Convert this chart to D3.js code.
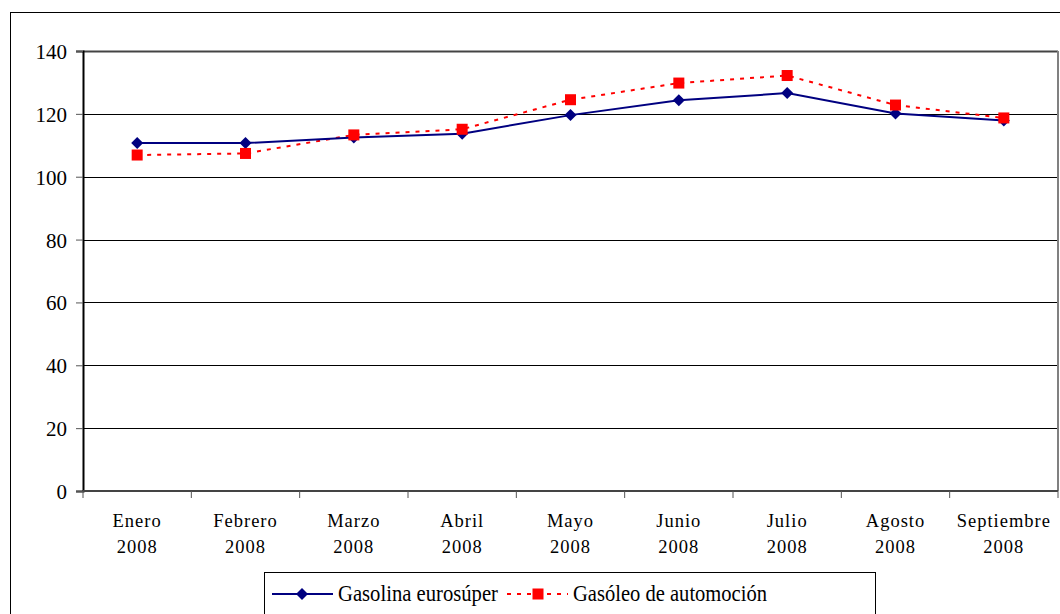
<!DOCTYPE html>
<html>
<head>
<meta charset="utf-8">
<script src="https://cdn.jsdelivr.net/npm/d3@7"></script>
<style>
  body { margin: 0; background: #fff; }
  svg text { font-family: "Liberation Serif", "Times New Roman", serif; }
</style>
</head>
<body>
<div id="chart"></div>
<script>
let months = ["Enero", "Febrero", "Marzo", "Abril", "Mayo", "Junio", "Julio", "Agosto", "Septiembre"];
let years = ["2008", "2008", "2008", "2008", "2008", "2008", "2008", "2008", "2008"];
let gasolina = [110.7, 110.7, 112.5, 113.7, 119.6, 124.3, 126.6, 120.1, 117.9];
let gasoleo = [106.9, 107.4, 113.3, 115.1, 124.5, 129.8, 132.2, 122.8, 118.7];
let yTicks = [0, 20, 40, 60, 80, 100, 120, 140];

let W = 1060, H = 614;
let margin = {top: 51, right: 2, bottom: 123, left: 83},
    width = W - margin.left - margin.right,
    height = H - margin.top - margin.bottom;

let serif = "Liberation Serif";

let svgRoot = d3.select("#chart")
    .append("svg")
    .attr("width", W)
    .attr("height", H);

// outer chart border
svgRoot.append("rect")
    .attr("x", 10.5)
    .attr("y", 12.5)
    .attr("width", W)
    .attr("height", H)
    .attr("fill", "#fff")
    .attr("stroke", "#000")
    .attr("stroke-width", 1);

let svg = svgRoot.append("g")
    .attr("transform", "translate(" + margin.left + "," + margin.top + ")");

let x = d3.scaleBand().domain(months).range([0, width]);
let y = d3.scaleLinear().domain([0, 140]).range([height, 0]);

// gridlines
svg.append("g")
    .selectAll("line")
    .data(yTicks.filter(d => d > 0))
    .join("line")
    .attr("x1", 0)
    .attr("x2", width)
    .attr("y1", d => Math.round(y(d)) + 0.5)
    .attr("y2", d => Math.round(y(d)) + 0.5)
    .attr("stroke", d => d === 140 ? "#444" : "#000")
    .attr("stroke-width", d => d === 140 ? 2 : 1);

// plot right border
svg.append("line")
    .attr("x1", width).attr("x2", width)
    .attr("y1", 0).attr("y2", height)
    .attr("stroke", "#808080")
    .attr("stroke-width", 2);

// y axis
let yAxis = d3.axisLeft(y).tickValues(yTicks).tickSize(7).tickPadding(9);
let gy = svg.append("g").call(yAxis);
gy.attr("font-family", serif);
gy.select(".domain").attr("stroke", "#000").attr("stroke-width", 2);
gy.selectAll(".tick line").attr("stroke", "#555");
gy.selectAll("text")
    .attr("font-size", 21)
    .attr("fill", "#000")
    .attr("dy", "0.36em");

// x axis
let gx = svg.append("g")
    .attr("transform", "translate(0," + height + ")");
gx.append("line")
    .attr("x1", 0).attr("x2", width)
    .attr("y1", 0).attr("y2", 0)
    .attr("stroke", "#444")
    .attr("stroke-width", 2);
gx.selectAll(".xt")
    .data(months.map(m => x(m)).concat([width]))
    .join("line")
    .attr("class", "xt")
    .attr("x1", d => d).attr("x2", d => d)
    .attr("y1", 0).attr("y2", 7)
    .attr("stroke", "#555");
let lbl = gx.selectAll(".xl")
    .data(months)
    .join("text")
    .attr("class", "xl")
    .attr("text-anchor", "middle")
    .attr("font-family", serif)
    .attr("font-size", 18.5)
    .attr("letter-spacing", 1)
    .attr("fill", "#000")
    .attr("x", d => x(d) + x.bandwidth() / 2);
lbl.append("tspan")
    .attr("x", d => x(d) + x.bandwidth() / 2)
    .attr("y", 36)
    .text(d => d);
lbl.append("tspan")
    .attr("x", d => x(d) + x.bandwidth() / 2)
    .attr("y", 62)
    .text((d, i) => years[i]);

let cx = i => x(months[i]) + x.bandwidth() / 2;

let line = d3.line()
    .x((d, i) => cx(i))
    .y(d => y(d));

// Gasóleo (dotted red)
svg.append("path")
    .datum(gasoleo)
    .attr("fill", "none")
    .attr("stroke", "#ff0000")
    .attr("stroke-width", 2)
    .attr("stroke-dasharray", "4,6")
    .attr("d", line);

// Gasolina (solid navy)
svg.append("path")
    .datum(gasolina)
    .attr("fill", "none")
    .attr("stroke", "#000080")
    .attr("stroke-width", 2)
    .attr("d", line);

svg.selectAll(".diamond")
    .data(gasolina)
    .join("path")
    .attr("class", "diamond")
    .attr("transform", (d, i) => "translate(" + cx(i) + "," + y(d) + ")")
    .attr("d", "M0,-6L6,0L0,6L-6,0Z")
    .attr("fill", "#000080");

svg.selectAll(".square")
    .data(gasoleo)
    .join("rect")
    .attr("class", "square")
    .attr("x", (d, i) => cx(i) - 5.5)
    .attr("y", d => y(d) - 5.5)
    .attr("width", 11)
    .attr("height", 11)
    .attr("fill", "#ff0000");

// legend
let lg = svgRoot.append("g").attr("font-family", serif);
lg.append("rect")
    .attr("x", 264.5).attr("y", 572.5)
    .attr("width", 611).attr("height", 60)
    .attr("fill", "#fff")
    .attr("stroke", "#000");

lg.append("line")
    .attr("x1", 272).attr("x2", 333).attr("y1", 594).attr("y2", 594)
    .attr("stroke", "#000080").attr("stroke-width", 2);
lg.append("path")
    .attr("transform", "translate(302,594)")
    .attr("d", "M0,-6L6,0L0,6L-6,0Z")
    .attr("fill", "#000080");
lg.append("text")
    .attr("x", 338).attr("y", 601)
    .attr("font-size", 23)
    .attr("textLength", 160)
    .attr("lengthAdjust", "spacingAndGlyphs")
    .text("Gasolina eurosúper");

lg.append("line")
    .attr("x1", 507).attr("x2", 568).attr("y1", 594).attr("y2", 594)
    .attr("stroke", "#ff0000").attr("stroke-width", 2)
    .attr("stroke-dasharray", "4,6");
lg.append("rect")
    .attr("x", 532.5).attr("y", 588.5)
    .attr("width", 11).attr("height", 11)
    .attr("fill", "#ff0000");
lg.append("text")
    .attr("x", 573).attr("y", 601)
    .attr("font-size", 23)
    .attr("textLength", 194)
    .attr("lengthAdjust", "spacingAndGlyphs")
    .text("Gasóleo de automoción");
</script>
</body>
</html>
